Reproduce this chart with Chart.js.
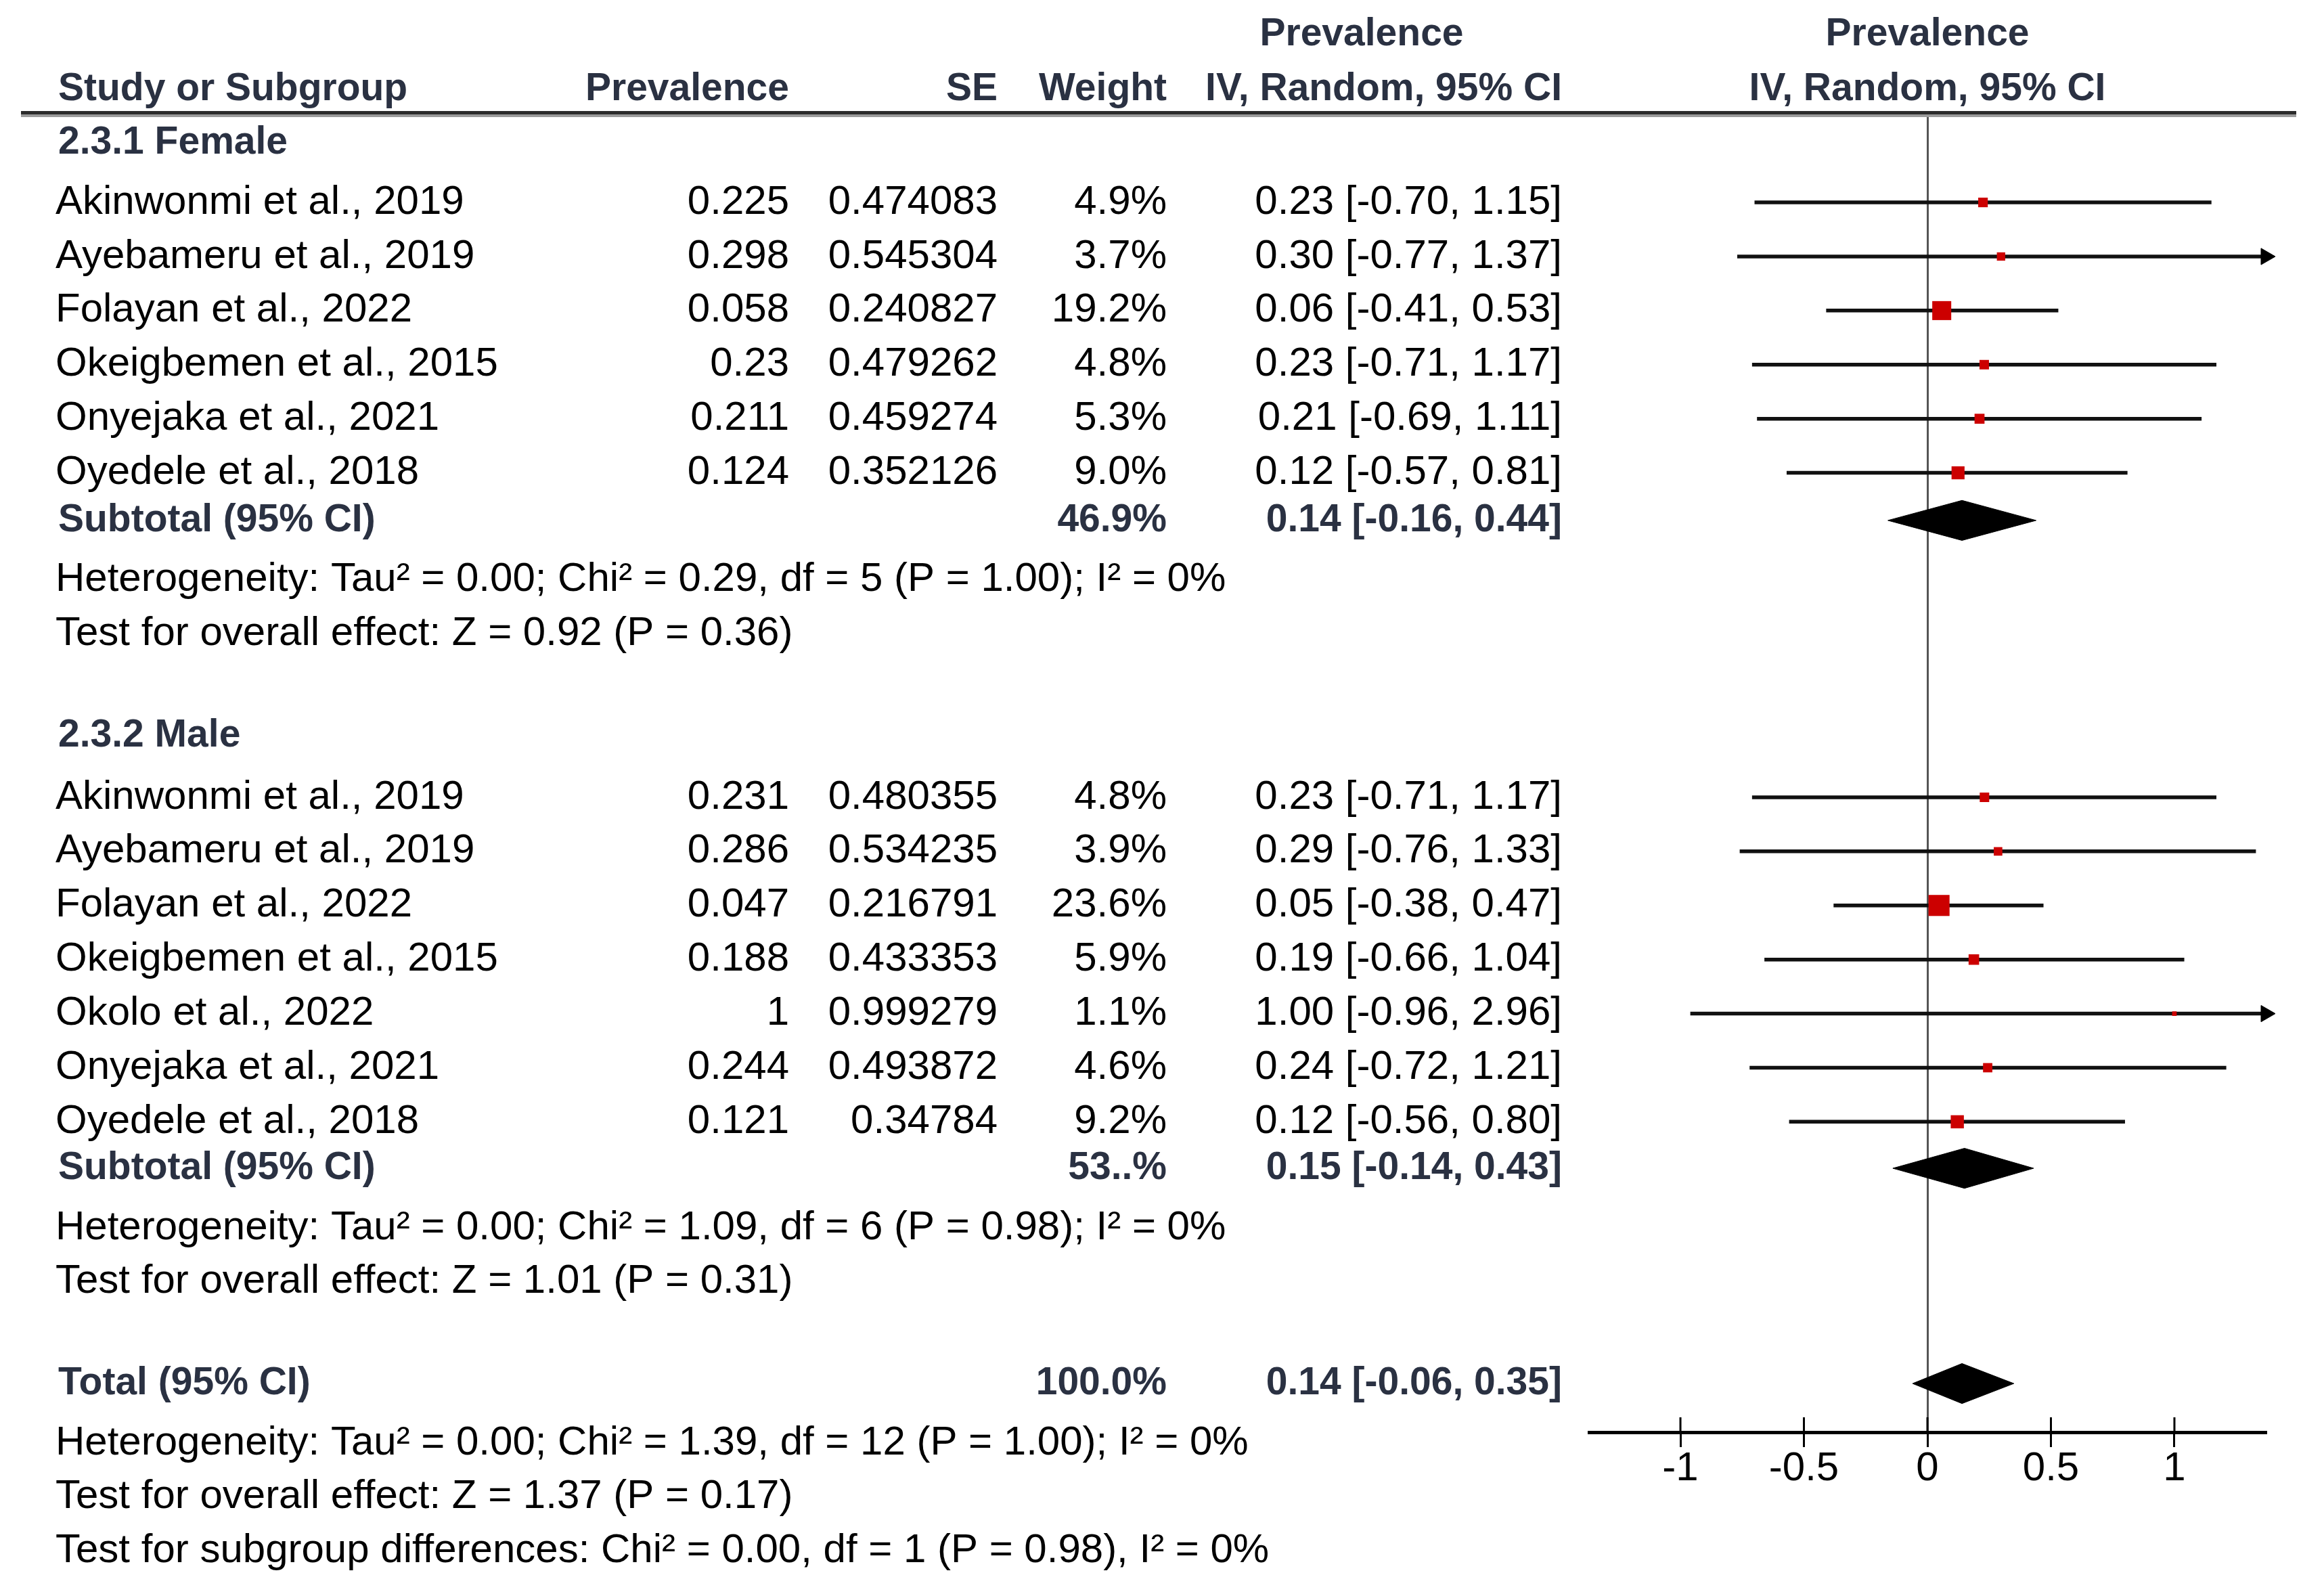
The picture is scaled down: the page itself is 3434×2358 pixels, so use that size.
<!DOCTYPE html>
<html>
<head>
<meta charset="utf-8">
<script src="https://cdn.jsdelivr.net/npm/chart.js@4.4.1/dist/chart.umd.min.js"></script>
<style>
  html, body { margin: 0; padding: 0; background: #fff; }
  #wrap { width: 3434px; height: 2358px; }
</style>
</head>
<body>
<div id="wrap"><canvas id="forest" width="3434" height="2358"></canvas></div>
<script>
// 2.3.1 Female
var femaleStudies = ['Akinwonmi et al., 2019', 'Ayebameru et al., 2019', 'Folayan et al., 2022',
  'Okeigbemen et al., 2015', 'Onyejaka et al., 2021', 'Oyedele et al., 2018'];
var femalePrev = [0.225, 0.298, 0.058, 0.23, 0.211, 0.124];
var femaleSE = [0.474083, 0.545304, 0.240827, 0.479262, 0.459274, 0.352126];
var femaleWeight = [4.9, 3.7, 19.2, 4.8, 5.3, 9.0];
var femaleLow = [-0.70, -0.77, -0.41, -0.71, -0.69, -0.57];
var femaleHigh = [1.15, 1.37, 0.53, 1.17, 1.11, 0.81];

// 2.3.2 Male
var maleStudies = ['Akinwonmi et al., 2019', 'Ayebameru et al., 2019', 'Folayan et al., 2022',
  'Okeigbemen et al., 2015', 'Okolo et al., 2022', 'Onyejaka et al., 2021', 'Oyedele et al., 2018'];
var malePrev = [0.231, 0.286, 0.047, 0.188, 1, 0.244, 0.121];
var maleSE = [0.480355, 0.534235, 0.216791, 0.433353, 0.999279, 0.493872, 0.34784];
var maleWeight = [4.8, 3.9, 23.6, 5.9, 1.1, 4.6, 9.2];
var maleLow = [-0.71, -0.76, -0.38, -0.66, -0.96, -0.72, -0.56];
var maleHigh = [1.17, 1.33, 0.47, 1.04, 2.96, 1.21, 0.80];

// pooled rows: female subtotal, male subtotal, total
var pooledLabels = ['Subtotal (95% CI)', 'Subtotal (95% CI)', 'Total (95% CI)'];
var pooledWeight = ['46.9%', '53..%', '100.0%'];
var pooledEst = [0.14, 0.15, 0.14];
var pooledLow = [-0.16, -0.14, -0.06];
var pooledHigh = [0.44, 0.43, 0.35];

var femaleStats = ['Heterogeneity: Tau\u00b2 = 0.00; Chi\u00b2 = 0.29, df = 5 (P = 1.00); I\u00b2 = 0%',
  'Test for overall effect: Z = 0.92 (P = 0.36)'];
var maleStats = ['Heterogeneity: Tau\u00b2 = 0.00; Chi\u00b2 = 1.09, df = 6 (P = 0.98); I\u00b2 = 0%',
  'Test for overall effect: Z = 1.01 (P = 0.31)'];
var totalStats = ['Heterogeneity: Tau\u00b2 = 0.00; Chi\u00b2 = 1.39, df = 12 (P = 1.00); I\u00b2 = 0%',
  'Test for overall effect: Z = 1.37 (P = 0.17)',
  'Test for subgroup differences: Chi\u00b2 = 0.00, df = 1 (P = 0.98), I\u00b2 = 0%'];

var xTicks = [-1, -0.5, 0, 0.5, 1];
var xTickLabels = ['-1', '-0.5', '0', '0.5', '1'];
var xLimit = 1.37;

// layout (row units on the hidden y scale)
var ROW = {
  head1: -3.1, head2: -2.09, femaleHead: -1.1, femaleFirst: 0, femaleSub: 5.88, femaleStats: 6.98,
  maleHead: 9.86, maleFirst: 11, maleSub: 17.86, maleStats: 18.96, total: 21.84, totalStats: 22.94,
  statStep: 1.0
};
var FONT = "'Liberation Sans', Arial, sans-serif";
var FS = 60, FS_BOLD = 57;
var BOLD_COLOR = '#2a3142';
var COL = { name: 82, bold: 86, prev: 1166, se: 1474, weight: 1724, ci: 2308, ciHead: 2012 };
var DIAMOND_H = 0.37;
var PLOT_TOP = 167, PLOT_BOTTOM = 2116, AXIS_H = 110, ROW_PX = 79.9;

function ciText(e, lo, hi) {
  return e.toFixed(2) + ' [' + lo.toFixed(2) + ', ' + hi.toFixed(2) + ']';
}
function squareRadius(w) { return 6.4 * Math.sqrt(w) / 1.414; }

var datasets = [];
var squares = [], squareSizes = [], arrows = [];

function addGroup(prev, low, high, weight, firstRow) {
  for (var i = 0; i < prev.length; i++) {
    var r = firstRow + i;
    datasets.push({
      data: [{x: Math.max(low[i], -xLimit), y: r}, {x: Math.min(high[i], xLimit), y: r}],
      borderColor: '#111', borderWidth: 5.5, pointRadius: 0, fill: false, order: 3
    });
    squares.push({x: prev[i], y: r});
    squareSizes.push(squareRadius(weight[i]));
    if (high[i] >= xLimit) arrows.push({x: xLimit, y: r});
  }
}
addGroup(femalePrev, femaleLow, femaleHigh, femaleWeight, ROW.femaleFirst);
addGroup(malePrev, maleLow, maleHigh, maleWeight, ROW.maleFirst);

var pooledRows = [ROW.femaleSub, ROW.maleSub, ROW.total];
for (var k = 0; k < pooledEst.length; k++) {
  var pr = pooledRows[k];
  datasets.push({
    data: [{x: pooledLow[k], y: pr}, {x: pooledEst[k], y: pr - DIAMOND_H}, {x: pooledHigh[k], y: pr}],
    borderColor: '#000', borderWidth: 1, backgroundColor: '#000', pointRadius: 0, tension: 0,
    fill: '+1', order: 2
  });
  datasets.push({
    data: [{x: pooledLow[k], y: pr}, {x: pooledEst[k], y: pr + DIAMOND_H}, {x: pooledHigh[k], y: pr}],
    borderColor: '#000', borderWidth: 1, pointRadius: 0, tension: 0, fill: false, order: 2
  });
}

datasets.push({
  data: squares, showLine: false, pointStyle: 'rect', pointRadius: squareSizes,
  pointBackgroundColor: '#cc0000', pointBorderWidth: 0, order: 0
});
datasets.push({
  data: arrows, showLine: false, pointStyle: 'triangle', pointRotation: 90, pointRadius: 14,
  pointBackgroundColor: '#000', pointBorderColor: '#000', pointBorderWidth: 1, clip: false, order: 0
});

var tablePlugin = {
  id: 'tableText',
  afterDraw: function(chart) {
    var ctx = chart.ctx, y = chart.scales.y, x = chart.scales.x, area = chart.chartArea;
    var zeroX = x.getPixelForValue(0);
    function put(text, px, r, align, bold) {
      ctx.font = (bold ? 'bold ' + FS_BOLD : FS) + 'px ' + FONT;
      ctx.fillStyle = bold ? BOLD_COLOR : '#000';
      ctx.textAlign = align;
      ctx.textBaseline = 'middle';
      ctx.fillText(text, px, y.getPixelForValue(r));
    }
    ctx.save();
    // header rule
    ctx.fillStyle = '#9a9a9a';
    ctx.fillRect(31, area.top + 2, 3362, 4);
    ctx.fillStyle = '#2b2b2b';
    ctx.fillRect(31, area.top - 3, 3362, 5);

    // upper halves of the axis tick marks
    ctx.strokeStyle = '#000';
    ctx.lineWidth = 3;
    xTicks.forEach(function(v) {
      var px = x.getPixelForValue(v);
      ctx.beginPath();
      ctx.moveTo(px, area.bottom - 22);
      ctx.lineTo(px, area.bottom);
      ctx.stroke();
    });

    // headers
    put('Prevalence', COL.ciHead, ROW.head1, 'center', true);
    put('Prevalence', zeroX, ROW.head1, 'center', true);
    put('Study or Subgroup', COL.bold, ROW.head2, 'left', true);
    put('Prevalence', COL.prev, ROW.head2, 'right', true);
    put('SE', COL.se, ROW.head2, 'right', true);
    put('Weight', COL.weight, ROW.head2, 'right', true);
    put('IV, Random, 95% CI', COL.ci, ROW.head2, 'right', true);
    put('IV, Random, 95% CI', zeroX, ROW.head2, 'center', true);

    function group(title, headRow, names, prev, se, weight, low, high, firstRow) {
      put(title, COL.bold, headRow, 'left', true);
      for (var i = 0; i < names.length; i++) {
        var r = firstRow + i;
        put(names[i], COL.name, r, 'left', false);
        put(String(prev[i]), COL.prev, r, 'right', false);
        put(String(se[i]), COL.se, r, 'right', false);
        put(weight[i].toFixed(1) + '%', COL.weight, r, 'right', false);
        put(ciText(prev[i], low[i], high[i]), COL.ci, r, 'right', false);
      }
    }
    group('2.3.1 Female', ROW.femaleHead, femaleStudies, femalePrev, femaleSE, femaleWeight, femaleLow, femaleHigh, ROW.femaleFirst);
    group('2.3.2 Male', ROW.maleHead, maleStudies, malePrev, maleSE, maleWeight, maleLow, maleHigh, ROW.maleFirst);

    for (var k = 0; k < pooledLabels.length; k++) {
      put(pooledLabels[k], COL.bold, pooledRows[k], 'left', true);
      put(pooledWeight[k], COL.weight, pooledRows[k], 'right', true);
      put(ciText(pooledEst[k], pooledLow[k], pooledHigh[k]), COL.ci, pooledRows[k], 'right', true);
    }
    var statBlocks = [[femaleStats, ROW.femaleStats], [maleStats, ROW.maleStats], [totalStats, ROW.totalStats]];
    statBlocks.forEach(function(b) {
      b[0].forEach(function(t, j) { put(t, COL.name, b[1] + j * ROW.statStep, 'left', false); });
    });
    ctx.restore();
  }
};

new Chart(document.getElementById('forest').getContext('2d'), {
  type: 'line',
  data: { datasets: datasets },
  plugins: [tablePlugin],
  options: {
    responsive: false,
    devicePixelRatio: 1,
    animation: false,
    events: [],
    layout: { padding: { left: 2348, right: 86, top: PLOT_TOP, bottom: 2358 - PLOT_BOTTOM - AXIS_H } },
    plugins: { legend: { display: false }, tooltip: { enabled: false } },
    scales: {
      x: {
        type: 'linear', min: -xLimit, max: xLimit,
        afterBuildTicks: function(s) { s.ticks = xTicks.map(function(v) { return {value: v}; }); },
        afterFit: function(s) { s.height = AXIS_H; },
        ticks: {
          callback: function(v, i) { return xTickLabels[i]; },
          font: { family: FONT, size: FS }, color: '#000', padding: -4, maxRotation: 0, autoSkip: false
        },
        grid: {
          color: function(c) { return c.tick && c.tick.value === 0 ? '#555' : 'rgba(0,0,0,0)'; },
          lineWidth: 3, tickColor: '#000', tickWidth: 3, tickLength: 22, drawOnChartArea: true
        },
        border: { display: true, color: '#000', width: 5 }
      },
      y: { type: 'linear', display: false, reverse: true, min: -1.653, max: -1.653 + (PLOT_BOTTOM - PLOT_TOP) / ROW_PX }
    }
  }
});
</script>
</body>
</html>
